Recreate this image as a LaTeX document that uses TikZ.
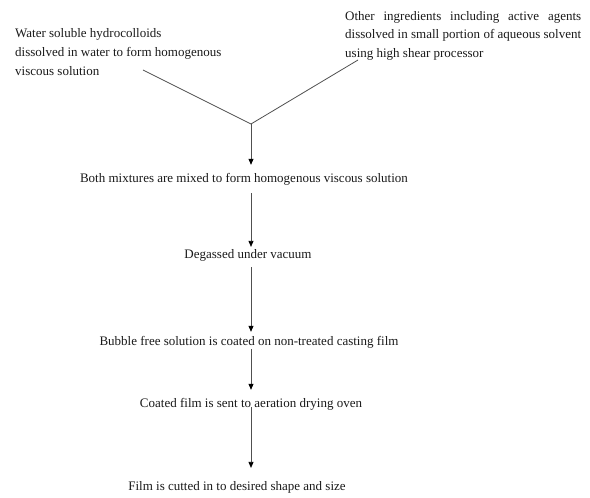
\documentclass[tikz,border=0pt]{standalone}
\usepackage{fontspec}
\setmainfont{Liberation Serif}
\usetikzlibrary{arrows.meta,calc}
\definecolor{linecol}{HTML}{505050}
\definecolor{txtcol}{HTML}{1A1A1A}
\newcommand{\jline}[1]{\makebox[236pt][s]{#1}}
\tikzset{
  steptext/.style={inner sep=0pt, font=\fontsize{13pt}{18.5pt}\selectfont, text=txtcol},
  blocktext/.style={steptext, anchor=north west},
  joinline/.style={draw=linecol, line width=0.8pt},
  arr/.style={draw=linecol, line width=0.8pt, -{Triangle[length=6pt,width=5pt,fill=black,color=black]}}
}
\begin{document}
\begin{tikzpicture}[x=1pt,y=1pt]
\useasboundingbox (0,0) rectangle (590,498);
\fill[white] (0,0) rectangle (590,498);
% top blocks
\node[blocktext, align=left, font=\fontsize{13pt}{19pt}\selectfont] (left) at (15,470)
  {Water soluble hydrocolloids\\dissolved in water to form homogenous\\viscous solution};
\node[blocktext, align=left] (right) at (345,487)
  {\jline{Other ingredients including active agents}\\
   \jline{dissolved in small portion of aqueous solvent}\\
   using high shear processor};
% junction
\coordinate (v) at (251,374);
\coordinate (ls) at (143,428);
\coordinate (rs) at (358,438);
\draw[joinline] (ls) -- (v) -- (rs);
% steps
\node[steptext] (n1) at (244,319) {Both mixtures are mixed to form homogenous viscous solution};
\node[steptext] (n2) at (248,243) {Degassed under vacuum};
\node[steptext] (n3) at (249,156) {Bubble free solution is coated on non-treated casting film};
\node[steptext] (n4) at (251,94) {Coated film is sent to aeration drying oven};
\node[steptext] (n5) at (237,11) {Film is cutted in to desired shape and size};
% arrows
\draw[arr] (v) -- ($(v|-n1.north)+(0,8)$);
\draw[arr] ($(v|-n1.south)+(0,-8)$) -- ($(v|-n2.north)+(0,2)$);
\draw[arr] ($(v|-n2.south)+(0,-6)$) -- ($(v|-n3.north)+(0,4)$);
\draw[arr] ($(v|-n3.south)+(0,-1)$) -- ($(v|-n4.north)+(0,8)$);
\draw[arr] ($(v|-n4.south)+(0,3)$) -- ($(v|-n5.north)+(0,13)$);
\end{tikzpicture}
\end{document}
